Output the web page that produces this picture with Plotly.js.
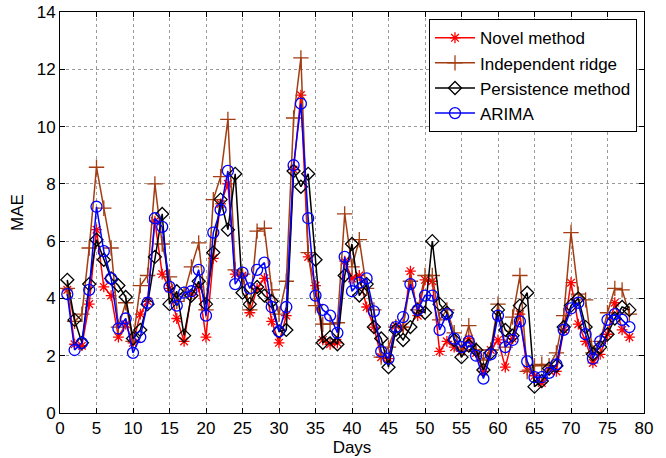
<!DOCTYPE html>
<html>
<head>
<meta charset="utf-8">
<script src="https://cdn.plot.ly/plotly-3.0.1.min.js"></script>
<style>
  html, body { margin: 0; padding: 0; background: #fff; }
  #chart { width: 666px; height: 458px; }
</style>
</head>
<body>
<div id="chart"></div>
<script>
// Daily mean absolute error of the four forecasting methods
const days = Array.from({length: 78}, (_, i) => i + 1);

const novelMethod = [
  4.3, 2.4, 2.35, 3.8, 6.4, 4.4, 4.1, 2.65, 3.1, 2.45,
  3.45, 3.9, 6.7, 4.85, 4.35, 3.3, 2.5, 4.15, 4.4, 2.65,
  5.4, 7.3, 8.0, 4.85, 4.8, 3.5, 4.35, 4.7, 3.2, 2.45,
  3.4, 8.5, 11.1, 5.45, 4.45, 2.55, 2.4, 2.45, 5.3, 4.7,
  4.8, 3.7, 3.0, 1.95, 1.9, 3.05, 3.0, 4.95, 3.4, 4.65,
  4.6, 2.15, 2.5, 2.3, 2.15, 2.6, 2.1, 1.45, 2.2, 2.55,
  1.6, 2.6, 3.45, 1.5, 1.3, 1.05, 1.5, 1.45, 2.9, 4.55,
  3.1, 2.5, 1.75, 2.05, 2.75, 3.85, 2.9, 2.65
];

const independentRidge = [
  4.35, 3.2, 3.45, 5.76, 8.58, 7.15, 5.76, 3.0, 3.85, 2.5,
  4.45, 4.8, 8.0, 5.9, 4.75, 3.9, 4.15, 5.1, 5.94, 3.6,
  7.45, 8.25, 10.25, 5.0, 4.85, 3.6, 6.35, 6.45, 4.3, 3.45,
  4.6, 10.3, 12.4, 5.6, 3.75, 3.1, 3.1, 3.15, 6.95, 5.1,
  6.05, 4.35, 3.6, 1.95, 2.3, 3.0, 3.0, 4.6, 3.6, 4.8,
  4.8, 3.25, 3.6, 2.8, 2.2, 3.05, 2.2, 1.85, 2.2, 3.8,
  2.3, 3.35, 4.8, 1.45, 1.65, 1.7, 1.65, 2.1, 3.4, 6.3,
  4.15, 3.95, 2.1, 2.5, 3.5, 4.35, 4.3, 3.45
];

const persistenceMethod = [
  4.65, 3.25, 2.45, 4.5, 6.05, 5.35, 4.7, 4.45, 4.05, 2.6,
  2.9, 3.8, 5.45, 6.95, 3.8, 4.25, 2.7, 4.1, 4.6, 3.8,
  5.6, 7.45, 6.4, 8.35, 4.2, 3.8, 4.4, 4.1, 3.9, 2.85,
  2.9, 8.45, 7.9, 8.35, 5.35, 2.45, 2.65, 2.4, 4.8, 5.9,
  4.1, 4.5, 3.0, 2.6, 1.6, 2.9, 2.55, 3.0, 3.6, 3.5,
  6.0, 3.8, 3.5, 2.55, 1.95, 2.35, 2.2, 1.5, 2.1, 3.6,
  2.9, 2.7, 3.75, 4.2, 0.92, 1.12, 1.55, 1.65, 3.0, 3.75,
  4.0, 3.0, 2.05, 2.3, 2.75, 3.3, 3.7, 3.6
];

const arima = [
  4.15, 2.2, 2.45, 4.3, 7.2, 5.65, 4.7, 2.95, 3.3, 2.1,
  2.65, 3.85, 6.8, 6.5, 4.4, 3.75, 4.2, 4.25, 5.0, 3.4,
  6.3, 7.1, 8.45, 4.5, 4.9, 4.35, 5.0, 5.25, 3.7, 2.85,
  3.7, 8.65, 10.8, 6.8, 4.1, 3.6, 3.4, 2.8, 5.45, 4.25,
  4.55, 4.7, 3.55, 2.15, 1.9, 3.0, 3.35, 4.5, 3.6, 4.1,
  4.1, 2.9, 3.45, 2.6, 2.3, 2.5, 2.0, 1.2, 2.05, 3.4,
  2.3, 2.55, 3.2, 1.8, 1.25, 1.25, 1.4, 1.7, 2.9, 3.65,
  3.85, 2.75, 1.9, 2.5, 3.25, 3.45, 3.25, 3.0
];

const seriesNames = ['Novel method', 'Independent ridge', 'Persistence method', 'ARIMA'];
const xTickVals = [0, 5, 10, 15, 20, 25, 30, 35, 40, 45, 50, 55, 60, 65, 70, 75, 80];
const yTickVals = [0, 2, 4, 6, 8, 10, 12, 14];

function series(name, y, color, symbol, size) {
  return {
    type: 'scatter',
    mode: 'lines+markers',
    name: name,
    x: days,
    y: y,
    line: {color: color, width: 1.5},
    marker: {symbol: symbol, size: size, color: color, line: {color: color, width: 1.3}}
  };
}

const traces = [
  series(seriesNames[0], novelMethod, '#ff0000', 'asterisk-open', 9),
  series(seriesNames[1], independentRidge, '#a33d12', 'cross-thin-open', 11),
  series(seriesNames[2], persistenceMethod, '#000000', 'diamond-open', 10),
  series(seriesNames[3], arima, '#0000ff', 'circle-open', 11)
];

const axisCommon = {
  showline: true,
  linecolor: '#000',
  linewidth: 1,
  mirror: 'ticks',
  ticks: 'inside',
  ticklen: 5,
  tickcolor: '#000',
  showgrid: true,
  gridcolor: '#9a9a9a',
  griddash: 'dot',
  gridwidth: 1,
  zeroline: false,
  tickfont: {family: 'Liberation Sans, Arial, sans-serif', size: 17, color: '#000'}
};

const layout = {
  width: 666,
  height: 458,
  margin: {l: 60, r: 22, t: 12, b: 45},
  paper_bgcolor: '#fff',
  plot_bgcolor: '#fff',
  font: {family: 'Liberation Sans, Arial, sans-serif', size: 17, color: '#000'},
  xaxis: Object.assign({}, axisCommon, {
    range: [0, 80],
    tickvals: xTickVals,
    title: {text: 'Days', font: {size: 17}, standoff: 2}
  }),
  yaxis: Object.assign({}, axisCommon, {
    range: [0, 14],
    tickvals: yTickVals,
    title: {text: 'MAE', font: {size: 17}, standoff: 8}
  }),
  showlegend: true,
  legend: {
    x: 0.988,
    y: 0.982,
    xanchor: 'right',
    yanchor: 'top',
    bgcolor: '#fff',
    bordercolor: '#000',
    borderwidth: 1,
    font: {size: 17},
    tracegroupgap: 0,
    itemwidth: 40
  }
};

Plotly.newPlot('chart', traces, layout, {displayModeBar: false, staticPlot: true});
</script>
</body>
</html>
